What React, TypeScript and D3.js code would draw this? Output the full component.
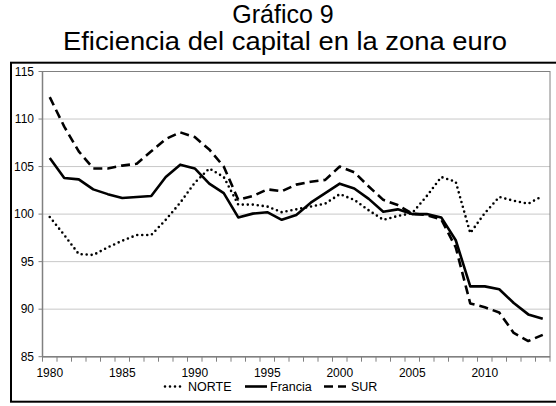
import React from 'react';
import * as d3 from 'd3';

const years = [
  1980, 1981, 1982, 1983, 1984, 1985, 1986, 1987, 1988, 1989,
  1990, 1991, 1992, 1993, 1994, 1995, 1996, 1997, 1998, 1999,
  2000, 2001, 2002, 2003, 2004, 2005, 2006, 2007, 2008, 2009,
  2010, 2011, 2012, 2013, 2014,
];
const norte = [
  99.7, 97.8, 95.8, 95.7, 96.5, 97.2, 97.8, 97.8, 99.4, 101.2,
  103.3, 104.8, 103.9, 101.0, 101.0, 100.8, 100.2, 100.5, 100.8, 101.1,
  102.1, 101.5, 100.4, 99.4, 99.8, 100.1, 101.9, 103.9, 103.4, 98.0,
  100.1, 101.8, 101.4, 101.1, 101.9,
];
const francia = [
  105.9, 103.8, 103.65, 102.6, 102.1, 101.7, 101.8, 101.9, 103.9, 105.2,
  104.8, 103.2, 102.2, 99.65, 100.05, 100.2, 99.4, 99.9, 101.2, 102.2,
  103.2, 102.7, 101.6, 100.25, 100.5, 100.0, 100.0, 99.65, 97.25, 92.4,
  92.4, 92.1, 90.65, 89.45, 89.0,
];
const sur = [
  112.3, 109.2, 106.6, 104.8, 104.8, 105.1, 105.3, 106.6, 107.9, 108.6,
  108.1, 106.8, 105.0, 101.5, 101.9, 102.6, 102.4, 103.1, 103.4, 103.6,
  105.0, 104.4, 102.9, 101.5, 100.95, 100.05, 99.9, 99.45, 96.5, 90.6,
  90.2, 89.65, 87.5, 86.65, 87.3,
];
const yTicks = [85, 90, 95, 100, 105, 110, 115];
const xLabels = [1980, 1985, 1990, 1995, 2000, 2005, 2010];

const seriesList = [
  { name: 'NORTE', values: norte, dash: '0 5', cap: 'round' },
  { name: 'Francia', values: francia, dash: '', cap: 'butt' },
  { name: 'SUR', values: sur, dash: '9 5', cap: 'butt' },
];

const font = 'Liberation Sans, Arial, sans-serif';

export default function App() {
  const width = 556;
  const height = 406;
  const plot = { left: 42.5, right: 550, top: 71.5, bottom: 356.7 };

  const x = d3.scaleBand<number>().domain(years).range([plot.left, plot.right]);
  const y = d3.scaleLinear().domain([85, 115]).range([plot.bottom, plot.top]);
  const cx = (yr: number) => (x(yr) as number) + x.bandwidth() / 2;

  const line = d3.line<number>()
    .x((_, i) => cx(years[i]))
    .y((d) => y(d));

  // tick boundaries between categories
  const boundaries = years.map((yr) => x(yr) as number).concat([plot.right]);

  const legend = [
    { s: seriesList[0], x0: 165, x1: 183, tx: 188 },
    { s: seriesList[1], x0: 245, x1: 267, tx: 270 },
    { s: seriesList[2], x0: 324, x1: 346, tx: 351 },
  ];

  return (
    <svg width={width} height={height} style={{ position: 'absolute', left: 0, top: 0 }}>
      <rect x={0} y={0} width={width} height={height} fill="#fff" />
      <text x={283} y={23} textAnchor="middle" fontFamily={font} fontSize={25}>Gráfico 9</text>
      <text x={285} y={50} textAnchor="middle" fontFamily={font} fontSize={26}
        textLength={444} lengthAdjust="spacingAndGlyphs">Eficiencia del capital en la zona euro</text>

      <rect x={11} y={62.7} width={560} height={339} fill="none" stroke="#000" strokeWidth={2} />

      {yTicks.map((t) => (
        <g key={t}>
          <line x1={plot.left} x2={plot.right} y1={y(t)} y2={y(t)} stroke="#c8c8c8" strokeWidth={1} />
          <line x1={plot.left - 4} x2={plot.left} y1={y(t)} y2={y(t)} stroke="#808080" />
          <text x={34} y={y(t) + 4} textAnchor="end" fontFamily={font} fontSize={12}>{t}</text>
        </g>
      ))}
      <rect x={plot.left} y={plot.top} width={plot.right - plot.left} height={plot.bottom - plot.top}
        fill="none" stroke="#808080" strokeWidth={1} />
      <line x1={plot.left} x2={plot.left} y1={plot.top} y2={plot.bottom} stroke="#808080" strokeWidth={1.5} />
      <line x1={plot.left} x2={plot.right} y1={plot.bottom} y2={plot.bottom} stroke="#808080" strokeWidth={1.5} />
      {boundaries.map((b, i) => (
        <line key={i} x1={b} x2={b} y1={plot.bottom} y2={plot.bottom + 5} stroke="#808080" />
      ))}
      {xLabels.map((yr) => (
        <text key={yr} x={cx(yr)} y={377} textAnchor="middle" fontFamily={font} fontSize={12}>{yr}</text>
      ))}

      {seriesList.map((s) => (
        <path key={s.name} d={line(s.values) || ''} fill="none" stroke="#000" strokeWidth={2.6}
          strokeDasharray={s.dash || undefined} strokeLinecap={s.cap as any} strokeLinejoin="round" />
      ))}

      {legend.map((l) => (
        <g key={l.s.name}>
          <line x1={l.x0} x2={l.x1} y1={386.5} y2={386.5} stroke="#000" strokeWidth={2.6}
            strokeDasharray={l.s.dash || undefined} strokeLinecap={l.s.cap as any} />
          <text x={l.tx} y={391} fontFamily={font} fontSize={12.5}>{l.s.name}</text>
        </g>
      ))}
    </svg>
  );
}
